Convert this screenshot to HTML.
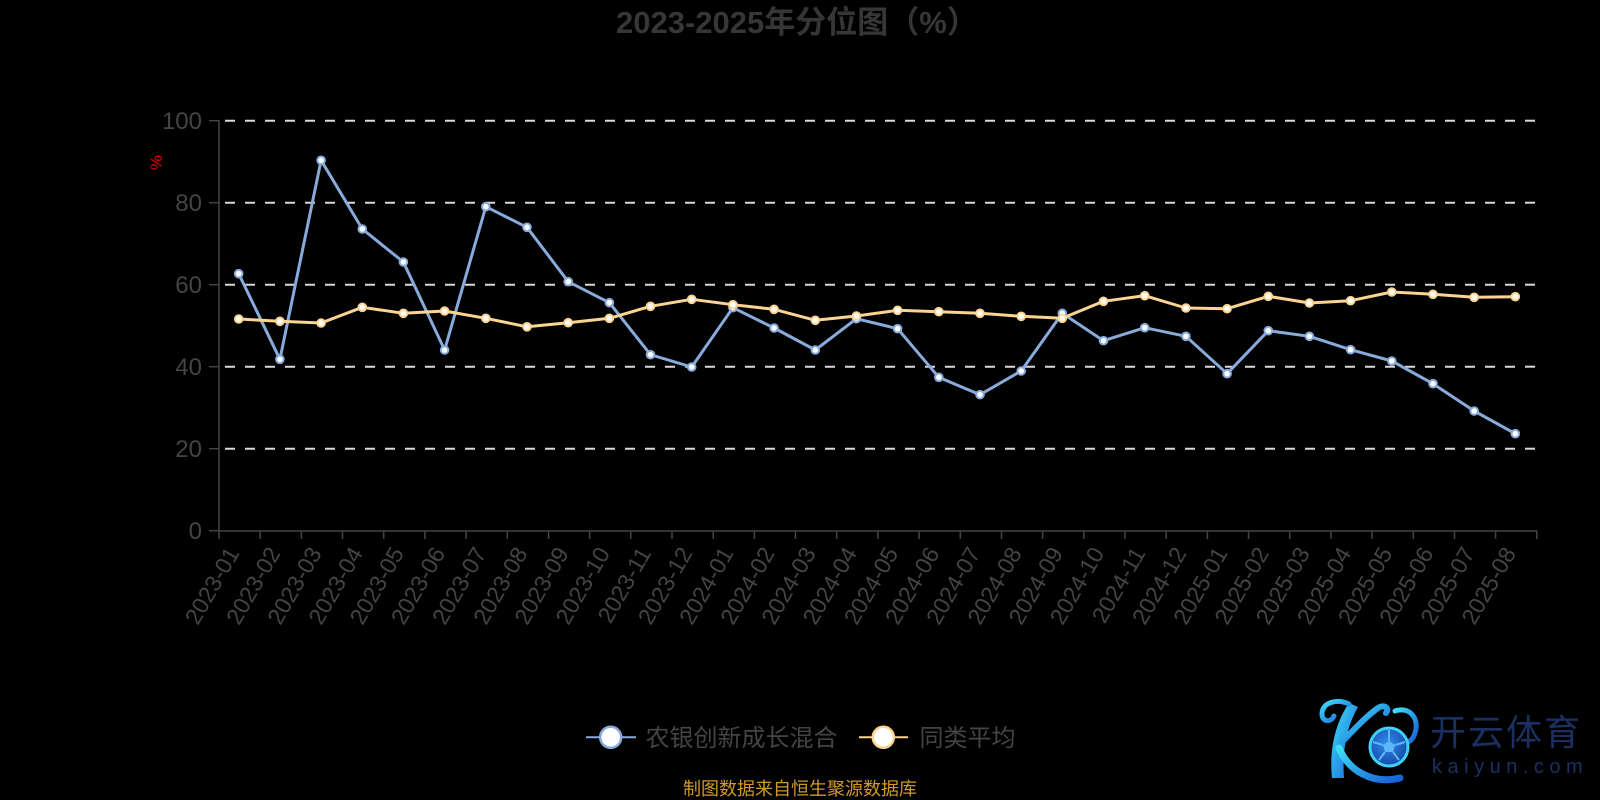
<!DOCTYPE html>
<html>
<head>
<meta charset="utf-8">
<style>
html,body{margin:0;padding:0;background:#000;}
body{width:1600px;height:800px;overflow:hidden;}
svg{display:block;}
text{font-family:"Liberation Sans","Noto Sans CJK SC",sans-serif;}
</style>
</head>
<body>
<svg width="1600" height="800" viewBox="0 0 1600 800" xmlns="http://www.w3.org/2000/svg">
<rect width="1600" height="800" fill="#000"/>
<defs>
<linearGradient id="kg" x1="0" y1="0" x2="1" y2="1">
<stop offset="0" stop-color="#3fe0fa"/>
<stop offset="1" stop-color="#1560d6"/>
</linearGradient>
<radialGradient id="bg" cx="0.45" cy="0.4" r="0.7">
<stop offset="0" stop-color="#2f8df0"/>
<stop offset="1" stop-color="#123e9c"/>
</radialGradient>
</defs>

<!-- Title -->
<text x="616" y="33" font-size="31" font-weight="bold" fill="#363636">2023-2025年分位图（%）</text>

<!-- Grid lines -->
<g stroke="#d9d9d9" stroke-width="2" stroke-dasharray="10 10" stroke-dashoffset="14">
<line x1="219" y1="120.7" x2="1537" y2="120.7"/>
<line x1="219" y1="202.7" x2="1537" y2="202.7"/>
<line x1="219" y1="284.7" x2="1537" y2="284.7"/>
<line x1="219" y1="366.7" x2="1537" y2="366.7"/>
<line x1="219" y1="448.7" x2="1537" y2="448.7"/>
</g>

<!-- Y axis -->
<g stroke="#444" stroke-width="1.5">
<line x1="219" y1="120" x2="219" y2="531"/>
<line x1="209" y1="120.7" x2="219" y2="120.7"/>
<line x1="209" y1="202.7" x2="219" y2="202.7"/>
<line x1="209" y1="284.7" x2="219" y2="284.7"/>
<line x1="209" y1="366.7" x2="219" y2="366.7"/>
<line x1="209" y1="448.7" x2="219" y2="448.7"/>
<line x1="209" y1="530.7" x2="219" y2="530.7"/>
</g>
<g font-size="24" fill="#444" text-anchor="end">
<text x="202" y="129">100</text>
<text x="202" y="211">80</text>
<text x="202" y="293">60</text>
<text x="202" y="375">40</text>
<text x="202" y="457">20</text>
<text x="202" y="539">0</text>
</g>
<text x="0" y="0" font-size="17" fill="#e00000" text-anchor="middle" transform="translate(162,162.5) rotate(-90)">%</text>

<!-- X axis -->
<g stroke="#444" stroke-width="1.5">
<line x1="219" y1="531" x2="1537.3" y2="531"/>
<path d="M219 531v8M260.2 531v8M301.4 531v8M342.5 531v8M383.7 531v8M424.9 531v8M466.1 531v8M507.3 531v8M548.5 531v8M589.6 531v8M630.8 531v8M672 531v8M713.2 531v8M754.4 531v8M795.5 531v8M836.7 531v8M877.9 531v8M919.1 531v8M960.3 531v8M1001.5 531v8M1042.6 531v8M1083.8 531v8M1125 531v8M1166.2 531v8M1207.4 531v8M1248.5 531v8M1289.7 531v8M1330.9 531v8M1372.1 531v8M1413.3 531v8M1454.5 531v8M1495.6 531v8M1536.8 531v8" fill="none"/>
</g>
<g font-size="23" fill="#444" text-anchor="end">
<text transform="translate(240,553) rotate(-60)">2023-01</text>
<text transform="translate(281.2,553) rotate(-60)">2023-02</text>
<text transform="translate(322.4,553) rotate(-60)">2023-03</text>
<text transform="translate(363.5,553) rotate(-60)">2023-04</text>
<text transform="translate(404.7,553) rotate(-60)">2023-05</text>
<text transform="translate(445.9,553) rotate(-60)">2023-06</text>
<text transform="translate(487.1,553) rotate(-60)">2023-07</text>
<text transform="translate(528.3,553) rotate(-60)">2023-08</text>
<text transform="translate(569.4,553) rotate(-60)">2023-09</text>
<text transform="translate(610.6,553) rotate(-60)">2023-10</text>
<text transform="translate(651.8,553) rotate(-60)">2023-11</text>
<text transform="translate(693,553) rotate(-60)">2023-12</text>
<text transform="translate(734.2,553) rotate(-60)">2024-01</text>
<text transform="translate(775.3,553) rotate(-60)">2024-02</text>
<text transform="translate(816.5,553) rotate(-60)">2024-03</text>
<text transform="translate(857.7,553) rotate(-60)">2024-04</text>
<text transform="translate(898.9,553) rotate(-60)">2024-05</text>
<text transform="translate(940.1,553) rotate(-60)">2024-06</text>
<text transform="translate(981.2,553) rotate(-60)">2024-07</text>
<text transform="translate(1022.4,553) rotate(-60)">2024-08</text>
<text transform="translate(1063.6,553) rotate(-60)">2024-09</text>
<text transform="translate(1104.8,553) rotate(-60)">2024-10</text>
<text transform="translate(1146,553) rotate(-60)">2024-11</text>
<text transform="translate(1187.1,553) rotate(-60)">2024-12</text>
<text transform="translate(1228.3,553) rotate(-60)">2025-01</text>
<text transform="translate(1269.5,553) rotate(-60)">2025-02</text>
<text transform="translate(1310.7,553) rotate(-60)">2025-03</text>
<text transform="translate(1351.9,553) rotate(-60)">2025-04</text>
<text transform="translate(1393,553) rotate(-60)">2025-05</text>
<text transform="translate(1434.2,553) rotate(-60)">2025-06</text>
<text transform="translate(1475.4,553) rotate(-60)">2025-07</text>
<text transform="translate(1516.6,553) rotate(-60)">2025-08</text>
</g>

<!-- Blue series -->
<polyline fill="none" stroke="#89abdb" stroke-width="3" stroke-linejoin="round"
points="238.7,273.7 279.9,359.3 321.1,160.3 362.3,229 403.4,262 444.6,350 485.8,206.7 527,227.3 568.2,281.7 609.4,302.7 650.5,354.7 691.7,367 732.9,307.7 774.1,328 815.3,350 856.4,318.7 897.6,328.7 938.8,377.3 980,394.7 1021.2,371 1062.3,313.3 1103.5,340.7 1144.7,327.7 1185.9,336.3 1227.1,373.7 1268.3,330.7 1309.4,336.3 1350.6,349.7 1391.8,361 1433,383.7 1474.2,411 1515.3,433.7"/>
<g fill="#fff" stroke="#89abdb" stroke-width="2">
<circle cx="238.7" cy="273.7" r="3.8"/><circle cx="279.9" cy="359.3" r="3.8"/><circle cx="321.1" cy="160.3" r="3.8"/><circle cx="362.3" cy="229" r="3.8"/><circle cx="403.4" cy="262" r="3.8"/><circle cx="444.6" cy="350" r="3.8"/><circle cx="485.8" cy="206.7" r="3.8"/><circle cx="527" cy="227.3" r="3.8"/><circle cx="568.2" cy="281.7" r="3.8"/><circle cx="609.4" cy="302.7" r="3.8"/><circle cx="650.5" cy="354.7" r="3.8"/><circle cx="691.7" cy="367" r="3.8"/><circle cx="732.9" cy="307.7" r="3.8"/><circle cx="774.1" cy="328" r="3.8"/><circle cx="815.3" cy="350" r="3.8"/><circle cx="856.4" cy="318.7" r="3.8"/><circle cx="897.6" cy="328.7" r="3.8"/><circle cx="938.8" cy="377.3" r="3.8"/><circle cx="980" cy="394.7" r="3.8"/><circle cx="1021.2" cy="371" r="3.8"/><circle cx="1062.3" cy="313.3" r="3.8"/><circle cx="1103.5" cy="340.7" r="3.8"/><circle cx="1144.7" cy="327.7" r="3.8"/><circle cx="1185.9" cy="336.3" r="3.8"/><circle cx="1227.1" cy="373.7" r="3.8"/><circle cx="1268.3" cy="330.7" r="3.8"/><circle cx="1309.4" cy="336.3" r="3.8"/><circle cx="1350.6" cy="349.7" r="3.8"/><circle cx="1391.8" cy="361" r="3.8"/><circle cx="1433" cy="383.7" r="3.8"/><circle cx="1474.2" cy="411" r="3.8"/><circle cx="1515.3" cy="433.7" r="3.8"/>
</g>

<!-- Orange series -->
<polyline fill="none" stroke="#fcd492" stroke-width="3" stroke-linejoin="round"
points="238.7,319 279.9,321.3 321.1,323 362.3,307.3 403.4,313.3 444.6,311 485.8,318.3 527,326.8 568.2,322.7 609.4,318.3 650.5,306.3 691.7,299.3 732.9,304.7 774.1,309.3 815.3,320.3 856.4,316 897.6,310.3 938.8,311.7 980,313.3 1021.2,316.3 1062.3,318.3 1103.5,301.3 1144.7,295.7 1185.9,308 1227.1,308.7 1268.3,296.3 1309.4,303 1350.6,300.7 1391.8,292 1433,294.3 1474.2,297.3 1515.3,296.7"/>
<g fill="#fff" stroke="#fcd492" stroke-width="2">
<circle cx="238.7" cy="319" r="3.8"/><circle cx="279.9" cy="321.3" r="3.8"/><circle cx="321.1" cy="323" r="3.8"/><circle cx="362.3" cy="307.3" r="3.8"/><circle cx="403.4" cy="313.3" r="3.8"/><circle cx="444.6" cy="311" r="3.8"/><circle cx="485.8" cy="318.3" r="3.8"/><circle cx="527" cy="326.8" r="3.8"/><circle cx="568.2" cy="322.7" r="3.8"/><circle cx="609.4" cy="318.3" r="3.8"/><circle cx="650.5" cy="306.3" r="3.8"/><circle cx="691.7" cy="299.3" r="3.8"/><circle cx="732.9" cy="304.7" r="3.8"/><circle cx="774.1" cy="309.3" r="3.8"/><circle cx="815.3" cy="320.3" r="3.8"/><circle cx="856.4" cy="316" r="3.8"/><circle cx="897.6" cy="310.3" r="3.8"/><circle cx="938.8" cy="311.7" r="3.8"/><circle cx="980" cy="313.3" r="3.8"/><circle cx="1021.2" cy="316.3" r="3.8"/><circle cx="1062.3" cy="318.3" r="3.8"/><circle cx="1103.5" cy="301.3" r="3.8"/><circle cx="1144.7" cy="295.7" r="3.8"/><circle cx="1185.9" cy="308" r="3.8"/><circle cx="1227.1" cy="308.7" r="3.8"/><circle cx="1268.3" cy="296.3" r="3.8"/><circle cx="1309.4" cy="303" r="3.8"/><circle cx="1350.6" cy="300.7" r="3.8"/><circle cx="1391.8" cy="292" r="3.8"/><circle cx="1433" cy="294.3" r="3.8"/><circle cx="1474.2" cy="297.3" r="3.8"/><circle cx="1515.3" cy="296.7" r="3.8"/>
</g>

<!-- Legend -->
<line x1="586" y1="737.3" x2="636" y2="737.3" stroke="#89abdb" stroke-width="2"/>
<circle cx="610.7" cy="737.3" r="10.5" fill="#fff" stroke="#89abdb" stroke-width="2.5"/>
<text x="645.5" y="746" font-size="24" fill="#444">农银创新成长混合</text>
<line x1="859" y1="737.3" x2="908" y2="737.3" stroke="#fcd492" stroke-width="2"/>
<circle cx="883.3" cy="737.3" r="10.5" fill="#fff" stroke="#fcd492" stroke-width="2.5"/>
<text x="919.5" y="746" font-size="24" fill="#444">同类平均</text>

<!-- Source -->
<text x="683" y="795" font-size="18" fill="#d09a26">制图数据来自恒生聚源数据库</text>

<!-- Logo -->
<g>
<path d="M1349,703 C1336,722 1329,748 1332,778 L1344,778 C1342,750 1347,726 1358,707 Z" fill="url(#kg)"/>
<path d="M1349,704 C1336,698 1322,703 1322,714 C1322,722 1331,723 1334,716" fill="none" stroke="url(#kg)" stroke-width="5" stroke-linecap="round"/>
<path d="M1340,744 C1352,732 1364,718 1378,708 C1384,704 1390,708 1386,713" fill="none" stroke="url(#kg)" stroke-width="6" stroke-linecap="round"/>
<path d="M1339,748 C1348,770 1372,785 1400,778" fill="none" stroke="url(#kg)" stroke-width="7" stroke-linecap="round"/>
<path d="M1395,711 C1409,706 1420,718 1415,733 C1412,743 1404,745 1402,738" fill="none" stroke="url(#kg)" stroke-width="5" stroke-linecap="round"/>
<circle cx="1389" cy="747" r="19" fill="url(#bg)" stroke="#3fd0f5" stroke-width="3"/>
<path d="M1389,741 l6,4 -2,7 -8,0 -2,-7 z" fill="#5fb8f5"/>
<path d="M1389,730 l0,11 M1395,745 l10,-3 M1393,752 l6,8 M1385,752 l-6,8 M1383,745 l-10,-3" stroke="#5fb8f5" stroke-width="2"/>
<text x="1430" y="745" font-size="36" fill="#1b3060" letter-spacing="2" font-family="'Noto Sans CJK SC',sans-serif">开云体育</text>
<text x="1432" y="773" font-size="20" fill="#1b3060" letter-spacing="5.5">kaiyun.com</text>
</g>
</svg>
</body>
</html>
